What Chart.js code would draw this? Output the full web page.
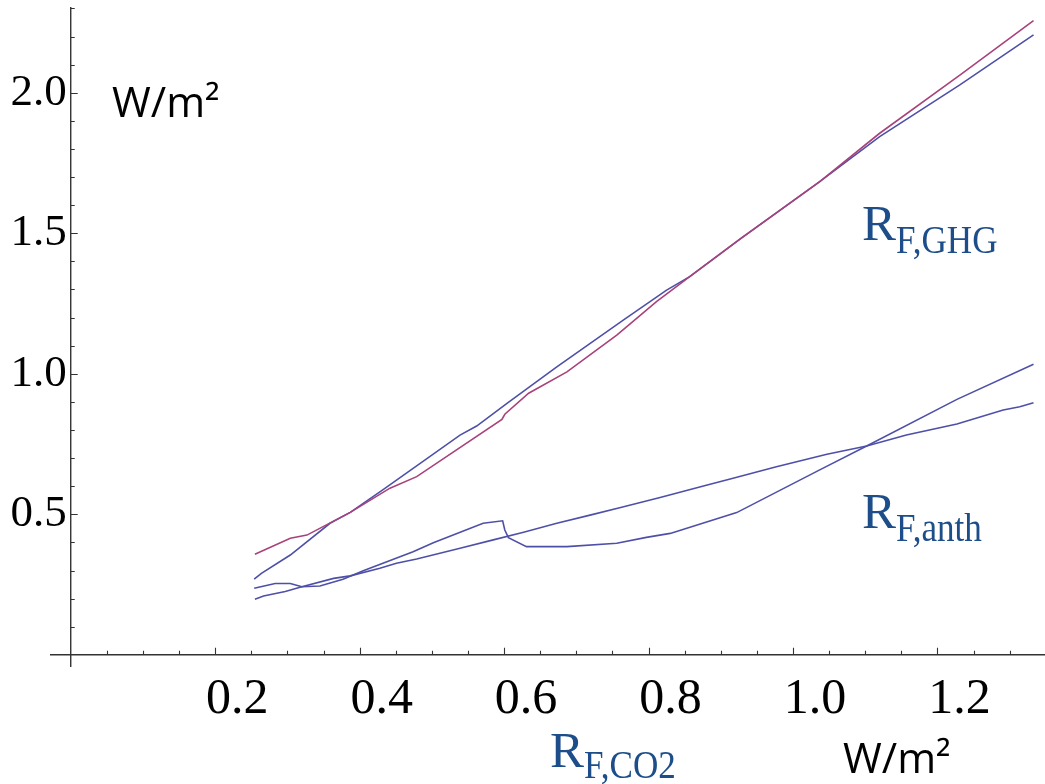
<!DOCTYPE html>
<html>
<head>
<meta charset="utf-8">
<script src="https://cdn.jsdelivr.net/npm/chart.js@4/dist/chart.umd.min.js"></script>
<style>
  html, body { margin: 0; padding: 0; background: #fff; }
  #chart { display: block; }
</style>
</head>
<body>
<canvas id="chart" width="1045" height="784"></canvas>
<script>
// upper pair (R_F,GHG)
const ghgRedX = [0.255, 0.304, 0.327, 0.387, 0.442, 0.479, 0.597, 0.601, 0.634, 0.687, 0.756, 0.811, 0.857, 0.927, 1.037, 1.120, 1.231, 1.333];
const ghgRedY = [0.358, 0.415, 0.426, 0.507, 0.593, 0.634, 0.838, 0.856, 0.931, 1.007, 1.138, 1.257, 1.346, 1.480, 1.684, 1.856, 2.063, 2.257];
const ghgBlueX = [0.254, 0.264, 0.304, 0.359, 0.387, 0.433, 0.539, 0.562, 0.604, 0.673, 0.765, 0.825, 0.857, 0.927, 1.037, 1.120, 1.231, 1.333];
const ghgBlueY = [0.269, 0.290, 0.355, 0.468, 0.507, 0.589, 0.782, 0.814, 0.895, 1.025, 1.191, 1.298, 1.346, 1.480, 1.684, 1.844, 2.028, 2.206];

// lower pair (R_F,anth)
const lowAX = [0.254, 0.283, 0.304, 0.320, 0.345, 0.377, 0.405, 0.474, 0.502, 0.571, 0.598, 0.601, 0.606, 0.631, 0.687, 0.756, 0.797, 0.830, 0.922, 1.037, 1.102, 1.227, 1.333];
const lowAY = [0.237, 0.254, 0.254, 0.242, 0.245, 0.269, 0.299, 0.367, 0.399, 0.468, 0.477, 0.444, 0.417, 0.385, 0.385, 0.397, 0.418, 0.432, 0.506, 0.658, 0.743, 0.909, 1.034];
const lowBX = [0.255, 0.267, 0.297, 0.320, 0.364, 0.387, 0.428, 0.451, 0.479, 0.539, 0.585, 0.627, 0.673, 0.719, 0.760, 0.816, 0.876, 0.917, 0.977, 1.047, 1.102, 1.157, 1.227, 1.291, 1.314, 1.333];
const lowBY = [0.198, 0.209, 0.225, 0.242, 0.272, 0.281, 0.308, 0.326, 0.341, 0.379, 0.409, 0.436, 0.468, 0.497, 0.523, 0.560, 0.601, 0.628, 0.669, 0.714, 0.743, 0.782, 0.821, 0.871, 0.883, 0.897];

// axis ticks
const xTickValues = [0.2, 0.4, 0.6, 0.8, 1.0, 1.2];
const xTickLabels = ["0.2", "0.4", "0.6", "0.8", "1.0", "1.2"];
const yTickValues = [0.5, 1.0, 1.5, 2.0];
const yTickLabels = ["0.5", "1.0", "1.5", "2.0"];

const BLUE = "rgb(78, 80, 168)";
const RED = "rgb(168, 66, 122)";
const LABEL_BLUE = "#1d4e89";
const SERIF = "'Liberation Serif', 'DejaVu Serif', serif";

function pts(xs, ys) {
    return xs.map((x, i) => ({ x: x, y: ys[i] }));
}

function lineSet(data, color) {
    return {
        data: data,
        borderColor: color,
        borderWidth: 1.6,
        pointRadius: 0,
        tension: 0,
        fill: false
    };
}

// R with a subscript, slightly condensed like the original
function drawR(ctx, x, base, sub, drop) {
    ctx.save();
    ctx.fillStyle = LABEL_BLUE;
    ctx.textAlign = "left";
    ctx.textBaseline = "alphabetic";
    ctx.font = "51px " + SERIF;
    ctx.fillText("R", x, base);
    ctx.translate(x + 34, base + drop);
    ctx.scale(0.9, 1);
    ctx.font = "39px " + SERIF;
    ctx.fillText(sub, 0, 0);
    ctx.restore();
}

const axesPlugin = {
    id: "mathAxes",
    beforeDatasetsDraw(chart) {
        const ctx = chart.ctx;
        const xs = chart.scales.x;
        const ys = chart.scales.y;
        const area = chart.chartArea;
        const x0 = xs.getPixelForValue(0);
        const y0 = ys.getPixelForValue(0);
        ctx.save();
        ctx.strokeStyle = "#333";
        ctx.lineWidth = 1.4;
        ctx.beginPath();
        ctx.moveTo(area.left, y0);
        ctx.lineTo(area.right, y0);
        ctx.moveTo(x0, area.top);
        ctx.lineTo(x0, area.bottom);
        ctx.stroke();

        ctx.lineWidth = 1.1;
        ctx.beginPath();
        // x ticks every 0.05, major every 0.2 (pointing up)
        for (let i = 1; i <= 26; i++) {
            const v = i * 0.05;
            const px = Math.round(xs.getPixelForValue(v)) + 0.5;
            const len = (i % 4 === 0) ? 7 : 4;
            ctx.moveTo(px, y0);
            ctx.lineTo(px, y0 - len);
        }
        // y ticks every 0.1, major every 0.5 (pointing right)
        for (let i = 1; i <= 23; i++) {
            const v = i * 0.1;
            const py = Math.round(ys.getPixelForValue(v)) + 0.5;
            const len = (i % 5 === 0) ? 7 : 4;
            ctx.moveTo(x0, py);
            ctx.lineTo(x0 + len, py);
        }
        ctx.stroke();
        ctx.restore();
    },
    afterDraw(chart) {
        const ctx = chart.ctx;
        const xs = chart.scales.x;
        const ys = chart.scales.y;
        const x0 = xs.getPixelForValue(0);
        const y0 = ys.getPixelForValue(0);
        ctx.save();
        ctx.fillStyle = "#000";

        ctx.font = "50px " + SERIF;
        ctx.textAlign = "center";
        ctx.textBaseline = "alphabetic";
        xTickValues.forEach((v, i) => {
            ctx.fillText(xTickLabels[i], xs.getPixelForValue(v) + 22, y0 + 58);
        });

        ctx.font = "45px " + SERIF;
        ctx.textAlign = "right";
        ctx.textBaseline = "middle";
        yTickValues.forEach((v, i) => {
            ctx.fillText(yTickLabels[i], x0 - 4, ys.getPixelForValue(v));
        });

        // unit labels
        ctx.font = "42px 'Open Sans', sans-serif";
        ctx.textAlign = "left";
        ctx.textBaseline = "alphabetic";
        ctx.fillText("W/m\u00b2", 112, 117);
        ctx.fillText("W/m\u00b2", 843, 773);
        ctx.restore();

        drawR(ctx, 862, 240, "F,GHG", 13);
        drawR(ctx, 862, 528, "F,anth", 13);
        drawR(ctx, 550, 767, "F,CO2", 11);
    }
};

new Chart(document.getElementById("chart"), {
    type: "line",
    data: {
        datasets: [
            lineSet(pts(ghgRedX, ghgRedY), RED),
            lineSet(pts(ghgBlueX, ghgBlueY), BLUE),
            lineSet(pts(lowAX, lowAY), BLUE),
            lineSet(pts(lowBX, lowBY), BLUE)
        ]
    },
    options: {
        responsive: false,
        animation: false,
        devicePixelRatio: 1,
        layout: { padding: { left: 50, right: 0, top: 7, bottom: 117 } },
        plugins: {
            legend: { display: false },
            tooltip: { enabled: false }
        },
        scales: {
            x: { type: "linear", display: false, min: -0.0287, max: 1.3489 },
            y: { type: "linear", display: false, min: -0.0434, max: 2.3053 }
        }
    },
    plugins: [axesPlugin]
});
</script>
</body>
</html>
